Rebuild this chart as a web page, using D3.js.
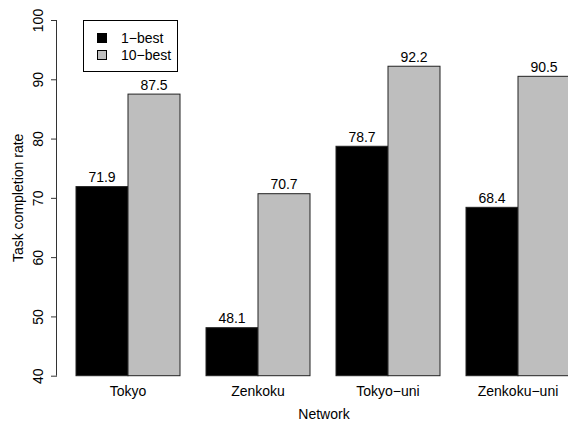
<!DOCTYPE html>
<html>
<head>
<meta charset="utf-8">
<script src="https://cdn.jsdelivr.net/npm/d3@7"></script>
<style>
  html, body { margin: 0; padding: 0; background: #fff; }
  svg { display: block; }
  text { font-family: "Liberation Sans", Arial, Helvetica, sans-serif; fill: #000; }
</style>
</head>
<body>
<svg id="chart" width="568" height="421"></svg>
<script>
// Task completion rate per network, for 1-best and 10-best hypotheses
const networks = ["Tokyo", "Zenkoku", "Tokyo\u2212uni", "Zenkoku\u2212uni"];
const seriesNames = ["1\u2212best", "10\u2212best"];
const oneBest = [71.9, 48.1, 78.7, 68.4];
const tenBest = [87.5, 70.7, 92.2, 90.5];
const yTicks = [40, 50, 60, 70, 80, 90, 100];
const colors = ["#000000", "#bebebe"];

const series = [oneBest, tenBest];
const FS = 14;

const svg = d3.select("#chart");

// y: value scale
const y = d3.scaleLinear().domain([40, 100]).range([375.7, 20]);

// x: bar-width units; each group = two bars preceded by a half-bar gap
const x = d3.scaleLinear().domain([0, 10]).range([50, 570]);
const groupStart = i => 0.5 + i * 2.5;

// bars
const g = svg.append("g");
networks.forEach((net, i) => {
  series.forEach((vals, s) => {
    const u0 = groupStart(i) + s;
    g.append("rect")
      .attr("x", x(u0))
      .attr("y", y(vals[i]))
      .attr("width", x(u0 + 1) - x(u0))
      .attr("height", y(40) - y(vals[i]))
      .attr("fill", colors[s])
      .attr("stroke", "#222")
      .attr("stroke-width", 1);
    g.append("text")
      .attr("x", x(u0 + 0.5))
      .attr("y", y(vals[i]) - 4.5)
      .attr("text-anchor", "middle")
      .attr("font-size", FS)
      .text(vals[i].toFixed(1));
  });
  // category label
  svg.append("text")
    .attr("x", x(groupStart(i) + 1))
    .attr("y", 395.5)
    .attr("text-anchor", "middle")
    .attr("font-size", FS)
    .text(net);
});

// y axis
const axisX = 57;
const yAxis = d3.axisLeft(y).tickValues(yTicks).tickSize(6).tickFormat(d3.format("d"));
const ay = svg.append("g").attr("transform", `translate(${axisX},0)`).call(yAxis);
ay.select(".domain").attr("stroke", "#333").attr("d", `M-0.5,${y(40)}V${y(100)}`);
ay.selectAll(".tick line").attr("stroke", "#333");
ay.selectAll(".tick text")
  .attr("font-size", FS)
  .attr("font-family", "Liberation Sans, Arial, sans-serif")
  .attr("fill", "#000")
  .attr("text-anchor", "middle")
  .attr("x", null).attr("dy", null)
  .attr("transform", "translate(-14,0) rotate(-90)")
  .attr("y", 0);

// axis titles
svg.append("text")
  .attr("transform", `translate(22.5,${(y(40) + y(100)) / 2}) rotate(-90)`)
  .attr("text-anchor", "middle")
  .attr("font-size", FS)
  .text("Task completion rate");
svg.append("text")
  .attr("x", 324)
  .attr("y", 418.5)
  .attr("text-anchor", "middle")
  .attr("font-size", FS)
  .text("Network");

// legend
const lg = svg.append("g");
lg.append("rect")
  .attr("x", 83.5).attr("y", 20.5)
  .attr("width", 94).attr("height", 51)
  .attr("fill", "#fff").attr("stroke", "#000");
seriesNames.forEach((name, s) => {
  const cy = 38 + s * 17;
  lg.append("rect")
    .attr("x", 97.5).attr("y", cy - 4.5)
    .attr("width", 9).attr("height", 9)
    .attr("fill", colors[s]).attr("stroke", "#000");
  lg.append("text")
    .attr("x", 121).attr("y", cy + 5.3)
    .attr("font-size", FS)
    .text(name);
});
</script>
</body>
</html>
